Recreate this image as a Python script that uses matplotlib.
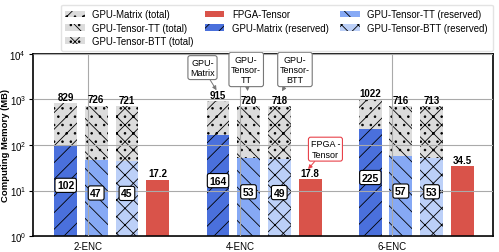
import matplotlib
matplotlib.use("Agg")
import matplotlib.pyplot as plt
import numpy as np

plt.rcParams['font.family'] = ['Liberation Sans', 'DejaVu Sans']
plt.rcParams['hatch.linewidth'] = 0.6

# données
groups = ["2-ENC", "4-ENC", "6-ENC"]
matrix_total = [829, 915, 1022]
tt_total = [726, 720, 716]
btt_total = [721, 718, 713]
matrix_res = [102, 164, 225]
tt_res = [47, 53, 57]
btt_res = [45, 49, 53]
fpga = [17.2, 17.8, 34.5]

GREY = "#dcdcdc"
C_MAT = "#4a70dc"
C_TT = "#86a9f5"
C_BTT = "#bcd0f8"
C_FPGA = "#d9534a"

x = np.arange(len(groups))
w = 0.15
offs = [-0.145, 0.055, 0.257, 0.46]

fig = plt.figure(figsize=(4.99, 2.53), dpi=100)
ax = fig.add_axes([0.066, 0.063, 0.922, 0.72])

series = [
    (matrix_total, matrix_res, '//..', '//', C_MAT, "GPU-Matrix"),
    (tt_total, tt_res, '\\\\..', '\\\\', C_TT, "GPU-Tensor-TT"),
    (btt_total, btt_res, 'xx..', 'xx', C_BTT, "GPU-Tensor-BTT"),
]
tot_handles, res_handles = [], []
for k, (tot, res, h_tot, h_res, col, name) in enumerate(series):
    pos = x + offs[k]
    bt = ax.bar(pos, np.array(tot) - 1, w, bottom=1, color=GREY, hatch=h_tot,
                edgecolor='black', lw=0, label=name + " (total)")
    br = ax.bar(pos, np.array(res) - 1, w, bottom=1, color=col, hatch=h_res,
                edgecolor='black', lw=0, label=name + " (reserved)")
    tot_handles.append(bt)
    res_handles.append(br)
    for p, t, r in zip(pos, tot, res):
        ax.annotate(str(t), (p, t), xytext=(0, 1), textcoords='offset points',
                    ha='center', va='bottom', fontsize=7, fontweight='bold')
        ax.text(p, np.sqrt(r), str(r), ha='center', va='bottom', fontsize=7.5,
                fontweight='bold',
                bbox=dict(boxstyle='round,pad=0.2', fc='white', ec='black', lw=0.8))

pos = x + offs[3]
bf = ax.bar(pos, np.array(fpga) - 1, w, bottom=1, color=C_FPGA, lw=0, label="FPGA-Tensor")
for p, v in zip(pos, fpga):
    ax.annotate(str(v), (p, v), xytext=(0, 1), textcoords='offset points',
                ha='center', va='bottom', fontsize=7, fontweight='bold')

# annotations
box = dict(boxstyle='round,pad=0.25', fc='white', ec='#777777', lw=0.8)
arr = dict(arrowstyle='-|>', color='#777777', lw=0.7, mutation_scale=6,
           shrinkA=0, shrinkB=1)
ax.annotate("GPU-\nMatrix", (x[1] - 0.15, 1500), xytext=(x[1] - 0.247, 5000),
            ha='center', va='center', fontsize=6.5, bbox=box, arrowprops=arr)
ax.annotate("GPU-\nTensor-\nTT", (x[1] + 0.05, 1420), xytext=(x[1] + 0.04, 4550),
            ha='center', va='center', fontsize=6.5, bbox=box, arrowprops=arr)
ax.annotate("GPU-\nTensor-\nBTT", (x[1] + 0.27, 1420), xytext=(x[1] + 0.36, 4550),
            ha='center', va='center', fontsize=6.5, bbox=box, arrowprops=arr)
ax.annotate("FPGA -\nTensor", (x[1] + offs[3] - 0.02, 28), xytext=(x[1] + 0.56, 81),
            ha='center', va='center', fontsize=6.5,
            bbox=dict(boxstyle='round,pad=0.25', fc='white', ec='#e8424a', lw=0.8),
            arrowprops=dict(arrowstyle='-|>', color='#e8424a', lw=0.7, mutation_scale=6,
                            shrinkA=0, shrinkB=1))

ax.set_yscale('log')
ax.set_ylim(1, 1e4)
ax.set_xlim(-0.36, 2.66)
ax.set_xticks(x)
ax.set_xticklabels(groups, fontsize=7)
ax.tick_params(axis='y', labelsize=7, which='major', length=3, pad=2)
ax.tick_params(axis='x', length=0)
ax.minorticks_off()
ax.set_ylabel("Computing Memory (MB)", fontsize=6.8, fontweight='bold')
ax.yaxis.set_label_coords(-0.05, 0.5)
ax.grid(True, color='#aaaaaa', lw=0.8)
ax.set_axisbelow(False)
for s in ax.spines.values():
    s.set_linewidth(1.2)

handles = tot_handles + [bf] + res_handles
labels = [h.get_label() for h in handles]
fig.legend(handles, labels, ncol=3, loc='upper right', bbox_to_anchor=(0.997, 0.997),
           fontsize=6.9, frameon=True, edgecolor='#dddddd', handlelength=2.0,
           columnspacing=1.2, borderpad=0.5, labelspacing=0.35, handletextpad=0.8,
           fancybox=True)

plt.savefig("out.png", dpi=100)
